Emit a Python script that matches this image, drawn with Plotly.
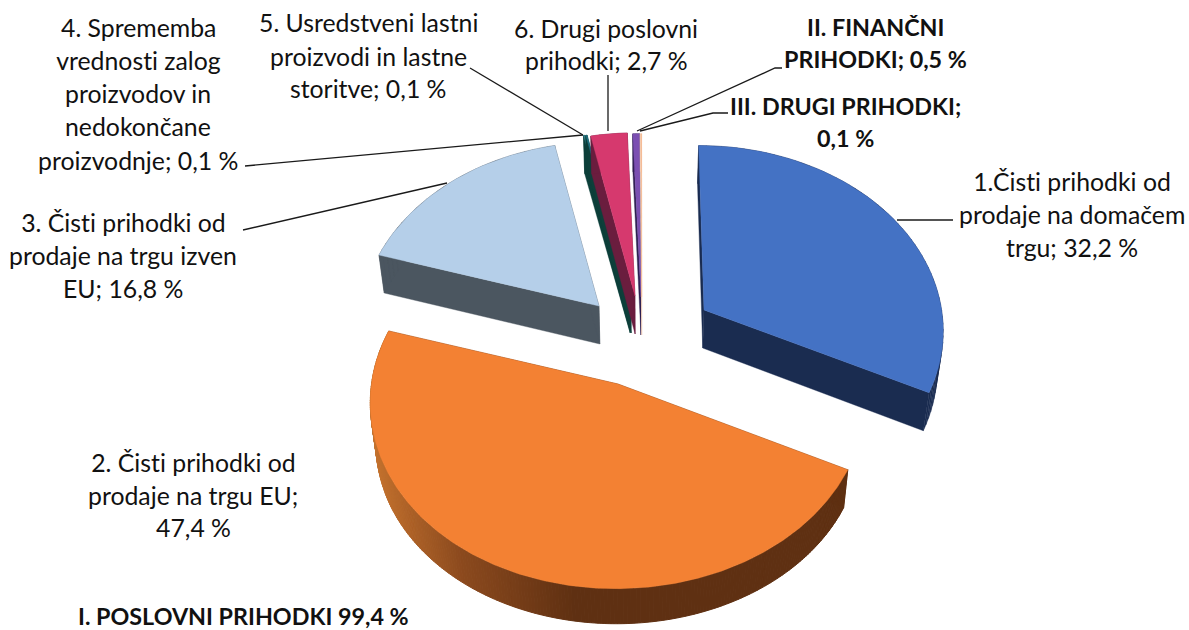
import math
import plotly.graph_objects as go

categories = ["1.Čisti prihodki od prodaje na domačem trgu", "2. Čisti prihodki od prodaje na trgu EU",
              "3. Čisti prihodki od prodaje na trgu izven EU", "4. Sprememba vrednosti zalog",
              "5. Usredstveni lastni proizvodi", "6. Drugi poslovni prihodki",
              "II. FINANČNI PRIHODKI", "III. DRUGI PRIHODKI"]
values = [32.2, 47.4, 16.8, 0.1, 0.1, 2.7, 0.5, 0.1]

top_colors = ["#4472C4", "#F38133", "#B5CFE9", "#2F7F8C", "#1F6F80", "#D6396E", "#7B4FB2", "#F6B58A"]
side_colors = ["#1A2C50", "#5F3012", "#4B5660", "#0D3F3A", "#0D3F3A", "#6A1D3E", "#2E1E50", "#F3D2BC"]
apex_x = [704, 618, 599, 630, 631, 635, 641, 641.7]
apex_y = [310, 384, 306, 295, 295, 296, 297, 297]
draw_order = [3, 4, 5, 6, 7, 2, 0, 1]

label_lines = [
    (1072, 181, "1.Čisti prihodki od", False), (1072, 214, "prodaje na domačem", False), (1072, 247, "trgu; 32,2 %", False),
    (193, 462, "2. Čisti prihodki od", False), (193, 495, "prodaje na trgu EU;", False), (193, 527, "47,4 %", False),
    (123, 222, "3. Čisti prihodki od", False), (123, 255, "prodaje na trgu izven", False), (123, 288, "EU; 16,8 %", False),
    (138, 27, "4. Sprememba", False), (138, 60, "vrednosti zalog", False), (138, 93, "proizvodov in", False),
    (138, 126, "nedokončane", False), (138, 160, "proizvodnje; 0,1 %", False),
    (368, 22, "5. Usredstveni lastni", False), (368, 56, "proizvodi in lastne", False), (368, 88, "storitve; 0,1 %", False),
    (606, 28, "6. Drugi poslovni", False), (606, 60, "prihodki; 2,7 %", False),
    (875, 27, "II. FINANČNI", True), (875, 59, "PRIHODKI; 0,5 %", True),
    (845, 106, "III. DRUGI PRIHODKI;", True), (845, 138, "0,1 %", True),
    (243, 616, "I. POSLOVNI PRIHODKI 99,4 %", True),
]
leaders = [
    ([897, 953], [220, 220]),
    ([447, 243], [183, 230]),
    ([583, 245], [135, 166]),
    ([583, 470], [135, 68]),
    ([608, 608], [131, 75]),
    ([637, 775, 782], [131, 68, 68]),
    ([640, 713, 728], [131, 113, 113]),
]

RX, RY, KX, KY, MIDY, DEPTH, CX = 240, 183, 0.10, 0.10, 330, 38, 640


def top_point(i, theta):
    u, v = math.sin(theta), -math.cos(theta)
    y = apex_y[i] + RY * v
    y = apex_y[i] + RY * v * (1 + KY * (y - MIDY) / 200)
    s = 1 + KX * (y - MIDY) / 200
    sa = 1 + KX * (apex_y[i] - MIDY) / 200
    x = CX + (apex_x[i] - CX) * s / sa + RX * u * s
    return x, y


def lower(p):
    d = DEPTH - 3 * max(0, (p[1] - 470) / 120)
    return CX + (p[0] - CX) * 0.98, p[1] + d


def mix(a, b, t):
    ca = [int(a[k:k + 2], 16) for k in (1, 3, 5)]
    cb = [int(b[k:k + 2], 16) for k in (1, 3, 5)]
    return "rgb(%d,%d,%d)" % tuple(ca[k] + (cb[k] - ca[k]) * t for k in range(3))


def orange_side(x):
    if x < 460:
        return mix("#C4722E", "#8C4A1E", max(0, (x - 372) / 88))
    if x < 575:
        return mix("#8C4A1E", "#5F3012", (x - 460) / 115)
    return "#5F3012"


fig = go.Figure()


def poly(pts, color, width=0.4):
    xs = [p[0] for p in pts] + [pts[0][0]]
    ys = [p[1] for p in pts] + [pts[0][1]]
    fig.add_trace(go.Scatter(x=xs, y=ys, mode="lines", fill="toself", fillcolor=color,
                             line=dict(color=color, width=width), hoverinfo="skip", showlegend=False))


total = sum(values)
starts, ang = [], 0.0
for v in values:
    starts.append(ang)
    ang += v / total * 2 * math.pi

for i in draw_order:
    a0 = starts[i]
    a1 = a0 + values[i] / total * 2 * math.pi
    n = max(2, int((a1 - a0) / math.radians(0.7 if i == 1 else 2)))
    arc = [top_point(i, a0 + (a1 - a0) * k / n) for k in range(n + 1)]
    apex = (apex_x[i], apex_y[i])
    poly([apex, arc[0], lower(arc[0]), lower(apex)], side_colors[i])
    poly([apex, arc[-1], lower(arc[-1]), lower(apex)], side_colors[i])
    for k in range(n):
        if i == 1:
            poly([arc[k], arc[k + 1], lower(arc[k + 1]), lower(arc[k])],
                 orange_side((arc[k][0] + arc[k + 1][0]) / 2), width=1)
        else:
            poly([arc[k], arc[k + 1], lower(arc[k + 1]), lower(arc[k])], side_colors[i])
    poly([apex] + arc, top_colors[i])

for xs, ys in leaders:
    fig.add_trace(go.Scatter(x=xs, y=ys, mode="lines", line=dict(color="#1a1a1a", width=1.3),
                             hoverinfo="skip", showlegend=False))

annotations = [dict(x=x, y=y, text="<b>%s</b>" % t if b else t, showarrow=False, xanchor="center", yanchor="middle",
                    borderpad=0, font=dict(family="Lato", size=23.3 if b else 24.8, color="#111111"))
               for x, y, t, b in label_lines]

fig.update_layout(width=1189, height=630, margin=dict(l=0, r=0, t=0, b=0), paper_bgcolor="white",
                  plot_bgcolor="white", showlegend=False, annotations=annotations,
                  xaxis=dict(range=[0, 1189], visible=False, fixedrange=True),
                  yaxis=dict(range=[630, 0], visible=False, fixedrange=True))
post = ("document.body.style.margin='0';"
        "var st=document.createElement('style');"
        "st.textContent='svg text{font-variant-ligatures:none;font-feature-settings:\"liga\" 0;}';"
        "document.head.appendChild(st);")
fig.write_html("out.html", post_script=post, config={"displayModeBar": False})
